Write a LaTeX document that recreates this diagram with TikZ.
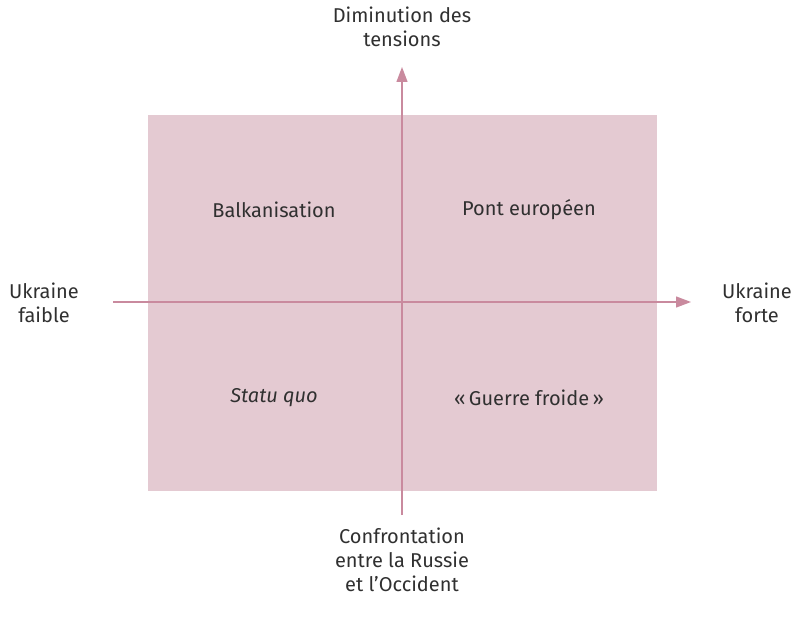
\documentclass[tikz,border=0pt]{standalone}
\usepackage{fontspec}
\setmainfont{Fira Sans}
\usetikzlibrary{arrows.meta}
\definecolor{fondrose}{HTML}{E4CAD2}
\definecolor{axerose}{HTML}{C98A9E}
\definecolor{texte}{HTML}{303030}
\begin{document}
\begin{tikzpicture}[x=1pt, y=-1pt, >={Triangle[length=15pt,width=11pt]},
  lab/.style={text=texte, font=\fontsize{20}{24}\selectfont, align=center, inner sep=0pt},
  axe/.style={draw=axerose, line width=1.3pt}]
\useasboundingbox (0,0) rectangle (799,620);

\def\xg{148}
\def\xd{657}
\def\yh{115}
\def\yb{491}
\def\xo{402}
\def\yo{302}

%--- Fond ---
\fill[fondrose] (\xg,\yh) rectangle (\xd,\yb);

%--- Extremites des axes ---
\coordinate (sud) at (\xo,515);
\coordinate (nord) at (\xo,67);
\coordinate (ouest) at (113,\yo);
\coordinate (est) at (691,\yo);

%--- Axes ---
\draw[axe,->] (sud) -- (nord);
\draw[axe,->] (ouest) -- (est);

%--- Poles ---
\node[lab] (haut) at (\xo,27) {Diminution des\\tensions};
\node[lab] (bas) at (\xo,560) {Confrontation\\entre la Russie\\et l’Occident};
\node[lab] (gauche) at (44,303) {Ukraine\\faible};
\node[lab] (droite) at (757,303) {Ukraine\\forte};

%--- Scenarios ---
\node[lab] (balkan) at (274,210) {Balkanisation};
\node[lab] (pont) at (529,210) {Pont européen};
\node[lab] (statu) at (274,398) {\itshape Statu quo};
\node[lab] (guerre) at (529,398) {«\,Guerre froide\,»};

\end{tikzpicture}
\end{document}
